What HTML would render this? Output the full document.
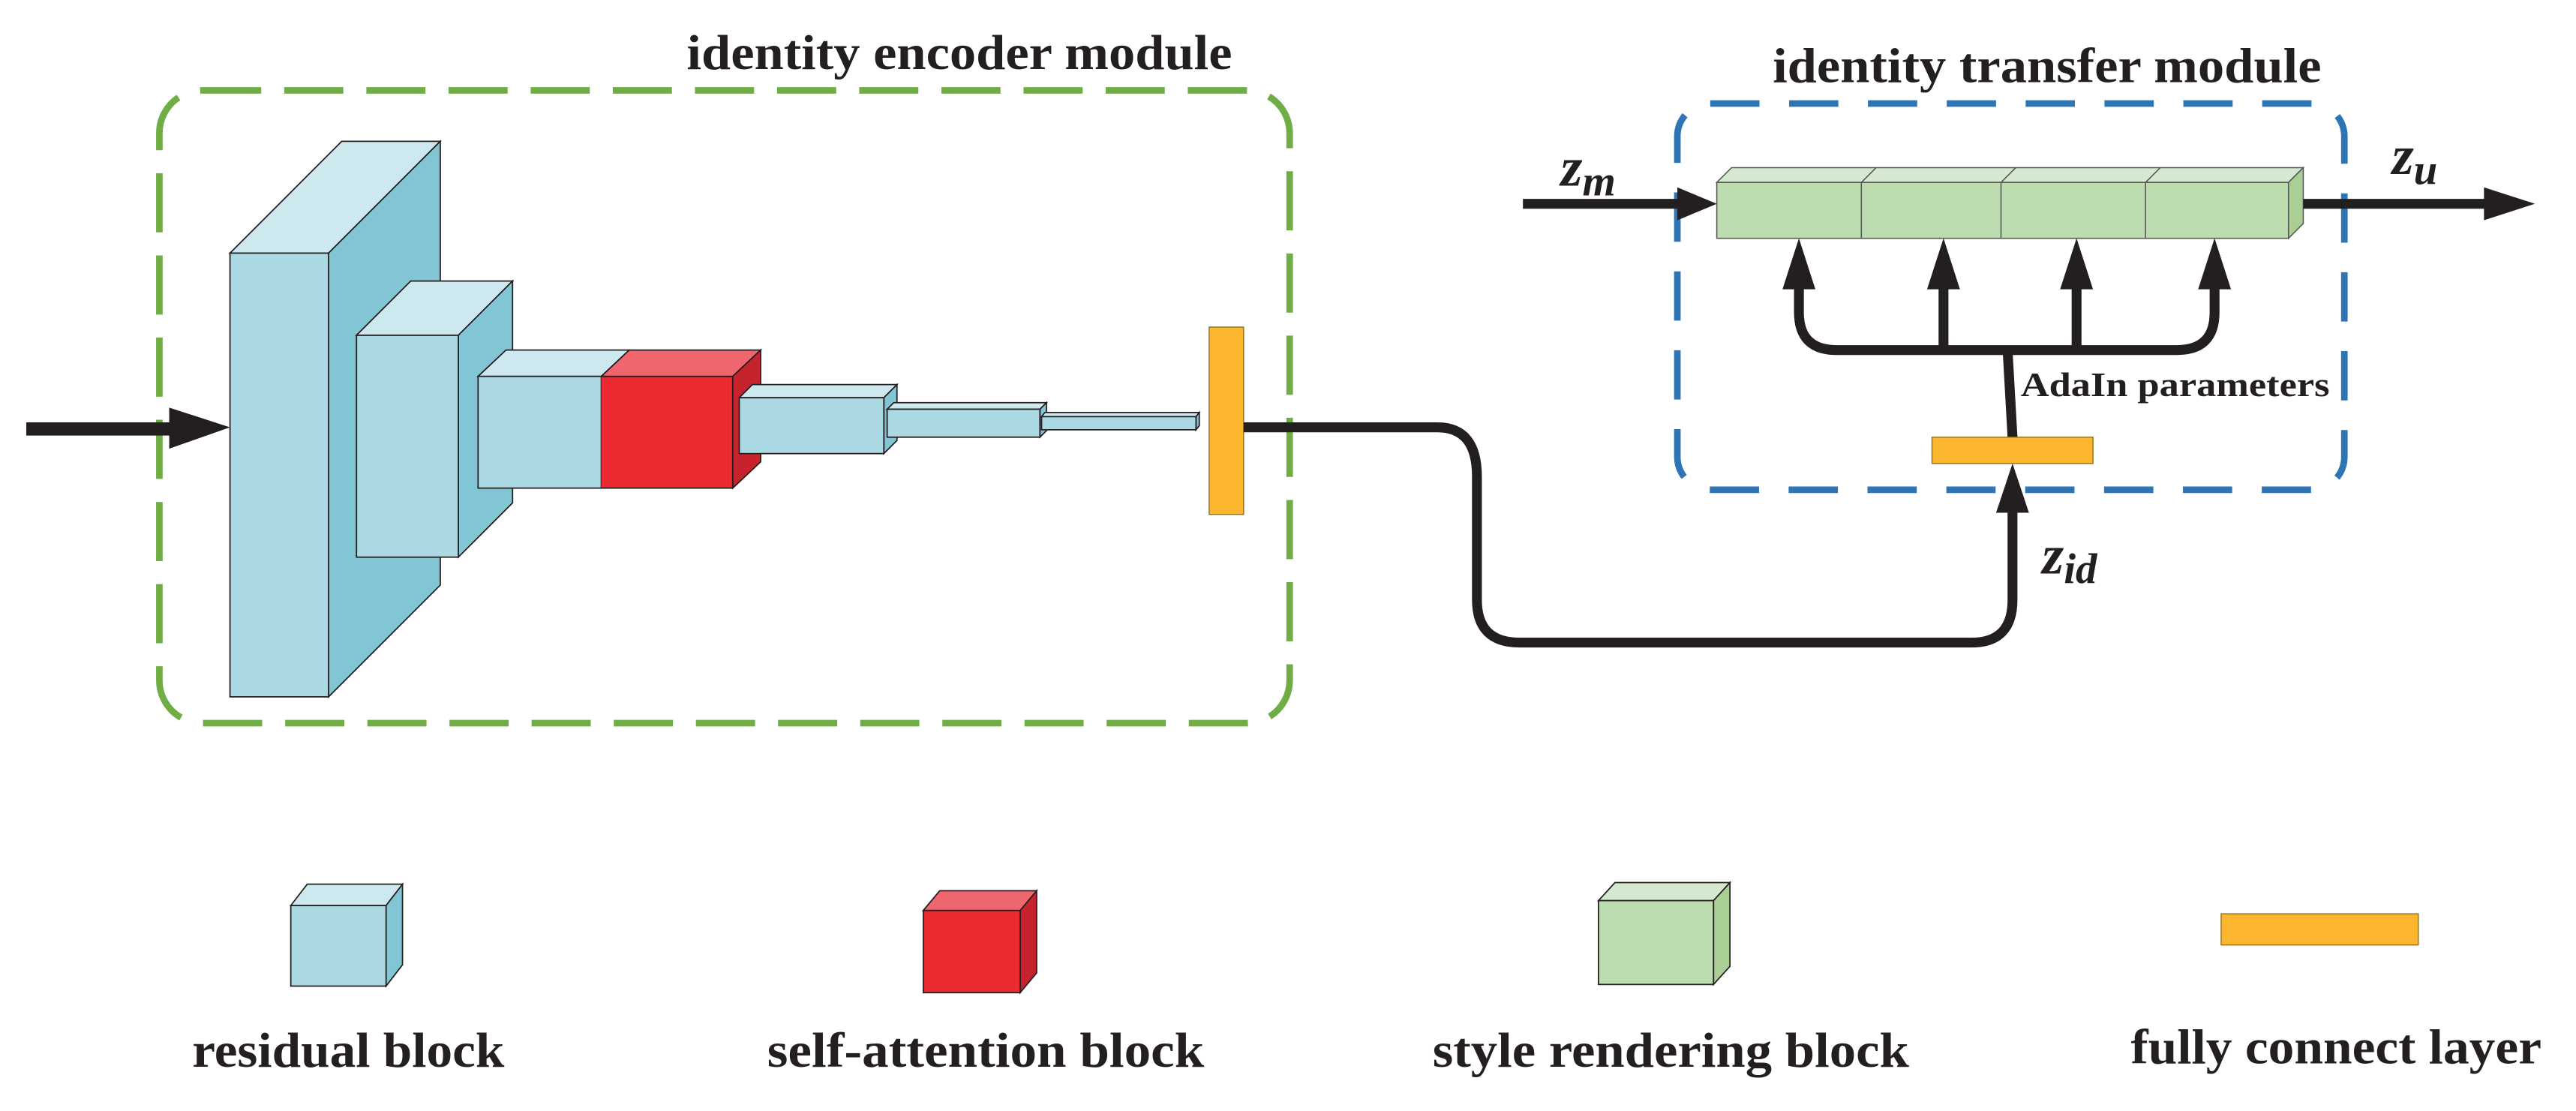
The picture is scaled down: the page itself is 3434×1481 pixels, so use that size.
<!DOCTYPE html>
<html><head><style>html,body{margin:0;padding:0;background:#fff}svg{display:block}</style></head>
<body>
<svg width="3434" height="1481" viewBox="0 0 1568 676" preserveAspectRatio="none" xmlns="http://www.w3.org/2000/svg" font-family="'Liberation Serif', serif" font-weight="bold">
<defs>
<marker id="ah" viewBox="0 0 10 10" refX="10" refY="5" markerWidth="4" markerHeight="4" orient="auto" markerUnits="strokeWidth"><path d="M0,0 L10,5 L0,10 z" fill="#231f20"/></marker>
</defs>
<rect x="0" y="0" width="1568" height="676" fill="#fff"/>
<!-- encoder box -->
<rect x="97" y="55" width="688" height="385" rx="26" fill="none" stroke="#70ad47" stroke-width="4" stroke-dasharray="36,14"/>
<text x="418" y="42" font-size="30" textLength="332" lengthAdjust="spacingAndGlyphs" fill="#231f20">identity encoder module</text>
<!-- transfer box -->
<rect x="1021" y="63" width="406" height="235" rx="20" fill="none" stroke="#2e75b6" stroke-width="4" stroke-dasharray="30,18"/>
<text x="1079" y="50" font-size="30" textLength="334" lengthAdjust="spacingAndGlyphs" fill="#231f20">identity transfer module</text>

<g stroke="#231f20" stroke-width="0.8">
<!-- big block -->
<polygon points="140,154 208,86 268,86 200,154" fill="#cde8ee"/>
<polygon points="200,154 268,86 268,356 200,424" fill="#82c5d5"/>
<rect x="140" y="154" width="60" height="270" fill="#aad9e3"/>
<!-- block2 -->
<polygon points="217,204 250,171 312,171 279,204" fill="#cde8ee"/>
<polygon points="279,204 312,171 312,306 279,339" fill="#82c5d5"/>
<rect x="217" y="204" width="62" height="135" fill="#aad9e3"/>
<!-- block3 + red -->
<polygon points="291,229 308,213 383,213 366,229" fill="#cde8ee"/>
<polygon points="366,229 383,213 463,213 446,229" fill="#f0666e"/>
<polygon points="446,229 463,213 463,281 446,297" fill="#c6232c"/>
<rect x="291" y="229" width="75" height="68" fill="#aad9e3"/>
<rect x="366" y="229" width="80" height="68" fill="#ec2a32" stroke="none"/>
<line x1="366" y1="229" x2="446" y2="229"/><line x1="366" y1="297" x2="446" y2="297"/><line x1="446" y1="229" x2="446" y2="297"/>
<!-- block4 -->
<polygon points="450,242 458,234 546,234 538,242" fill="#cde8ee"/>
<polygon points="538,242 546,234 546,268 538,276" fill="#82c5d5"/>
<rect x="450" y="242" width="88" height="34" fill="#aad9e3"/>
<!-- block5 -->
<polygon points="540,249 544,245 637,245 633,249" fill="#cde8ee"/>
<polygon points="633,249 637,245 637,262 633,266" fill="#82c5d5"/>
<rect x="540" y="249" width="93" height="17" fill="#aad9e3"/>
<!-- block6 -->
<polygon points="634,253.5 636,251 730,251 728,253.5" fill="#cde8ee"/>
<polygon points="728,253.5 730,251 730,259 728,261.5" fill="#82c5d5"/>
<rect x="634" y="253.5" width="94" height="8" fill="#aad9e3"/>
</g>
<!-- orange bar -->
<rect x="736" y="199" width="21" height="114" fill="#fbb52f" stroke="#8a6a1a" stroke-width="0.6"/>
<!-- input arrow -->
<line x1="16" y1="261" x2="105" y2="261" stroke="#231f20" stroke-width="8"/>
<polygon points="103,248 140,260 103,273" fill="#231f20"/>

<!-- green blocks -->
<g stroke="#555" stroke-width="0.7">
<polygon points="1045,111 1054,102 1402,102 1393,111" fill="#d5e8d0"/>
<polygon points="1393,111 1402,102 1402,136 1393,145" fill="#a9cf95"/>
<rect x="1045" y="111" width="348" height="34" fill="#bddcb0"/>
<line x1="1133" y1="111" x2="1133" y2="145"/><line x1="1133" y1="111" x2="1142" y2="102"/>
<line x1="1218" y1="111" x2="1218" y2="145"/><line x1="1218" y1="111" x2="1227" y2="102"/>
<line x1="1306" y1="111" x2="1306" y2="145"/><line x1="1306" y1="111" x2="1315" y2="102"/>
</g>
<!-- zm arrow -->
<line x1="927" y1="124" x2="1025" y2="124" stroke="#231f20" stroke-width="6"/>
<polygon points="1021,114 1045,124 1021,134" fill="#231f20"/>
<!-- zu arrow -->
<line x1="1402" y1="124" x2="1515" y2="124" stroke="#231f20" stroke-width="6"/>
<polygon points="1512,114 1543,124 1512,134" fill="#231f20"/>
<text x="950" y="113" font-size="34" font-style="italic" fill="#231f20">z<tspan font-size="26" dy="6">m</tspan></text>
<text x="1456" y="106" font-size="34" font-style="italic" fill="#231f20">z<tspan font-size="26" dy="6">u</tspan></text>
<text x="1243" y="349" font-size="34" font-style="italic" fill="#231f20">z<tspan font-size="26" dy="6">id</tspan></text>

<!-- adain distribution -->
<g fill="none" stroke="#231f20" stroke-width="6">
<path d="M1095,172 V190 Q1095,213 1118,213 H1325 Q1348,213 1348,190 V172"/>
<line x1="1183" y1="172" x2="1183" y2="213"/>
<line x1="1264" y1="172" x2="1264" y2="213"/>
<line x1="1222" y1="213" x2="1225" y2="266"/>
</g>
<g fill="#231f20">
<polygon points="1085,176 1095,145 1105,176"/>
<polygon points="1173,176 1183,145 1193,176"/>
<polygon points="1254,176 1264,145 1274,176"/>
<polygon points="1338,176 1348,145 1358,176"/>
</g>
<text x="1230" y="241" font-size="21" textLength="188" lengthAdjust="spacingAndGlyphs" fill="#231f20">AdaIn parameters</text>
<rect x="1176" y="266" width="98" height="16" fill="#fbb52f" stroke="#8a6a1a" stroke-width="0.6"/>
<!-- connector -->
<path d="M757,260 H875 Q899,260 899,290 V365 Q899,391 925,391 H1200 Q1225,391 1225,365 V305" fill="none" stroke="#231f20" stroke-width="6"/>
<polygon points="1215,312 1225,282 1235,312" fill="#231f20"/>

<!-- legend -->
<g stroke="#231f20" stroke-width="0.8">
<polygon points="177,551 187,538 245,538 235,551" fill="#cde8ee"/>
<polygon points="235,551 245,538 245,587 235,600" fill="#82c5d5"/>
<rect x="177" y="551" width="58" height="49" fill="#aad9e3"/>
<polygon points="562,554 572,542 631,542 621,554" fill="#f0666e"/>
<polygon points="621,554 631,542 631,592 621,604" fill="#c6232c"/>
<rect x="562" y="554" width="59" height="50" fill="#ec2a32"/>
<polygon points="973,548 983,537 1053,537 1043,548" fill="#d5e8d0"/>
<polygon points="1043,548 1053,537 1053,588 1043,599" fill="#a9cf95"/>
<rect x="973" y="548" width="70" height="51" fill="#bddcb0"/>
</g>
<rect x="1352" y="556" width="120" height="19" fill="#fbb52f" stroke="#8a6a1a" stroke-width="0.6"/>
<g font-size="30" fill="#231f20">
<text x="117" y="649" textLength="190" lengthAdjust="spacingAndGlyphs">residual block</text>
<text x="467" y="649" textLength="266" lengthAdjust="spacingAndGlyphs">self-attention block</text>
<text x="872" y="649" textLength="290" lengthAdjust="spacingAndGlyphs">style rendering block</text>
<text x="1297" y="647" textLength="250" lengthAdjust="spacingAndGlyphs">fully connect layer</text>
</g>
</svg>
</body></html>
